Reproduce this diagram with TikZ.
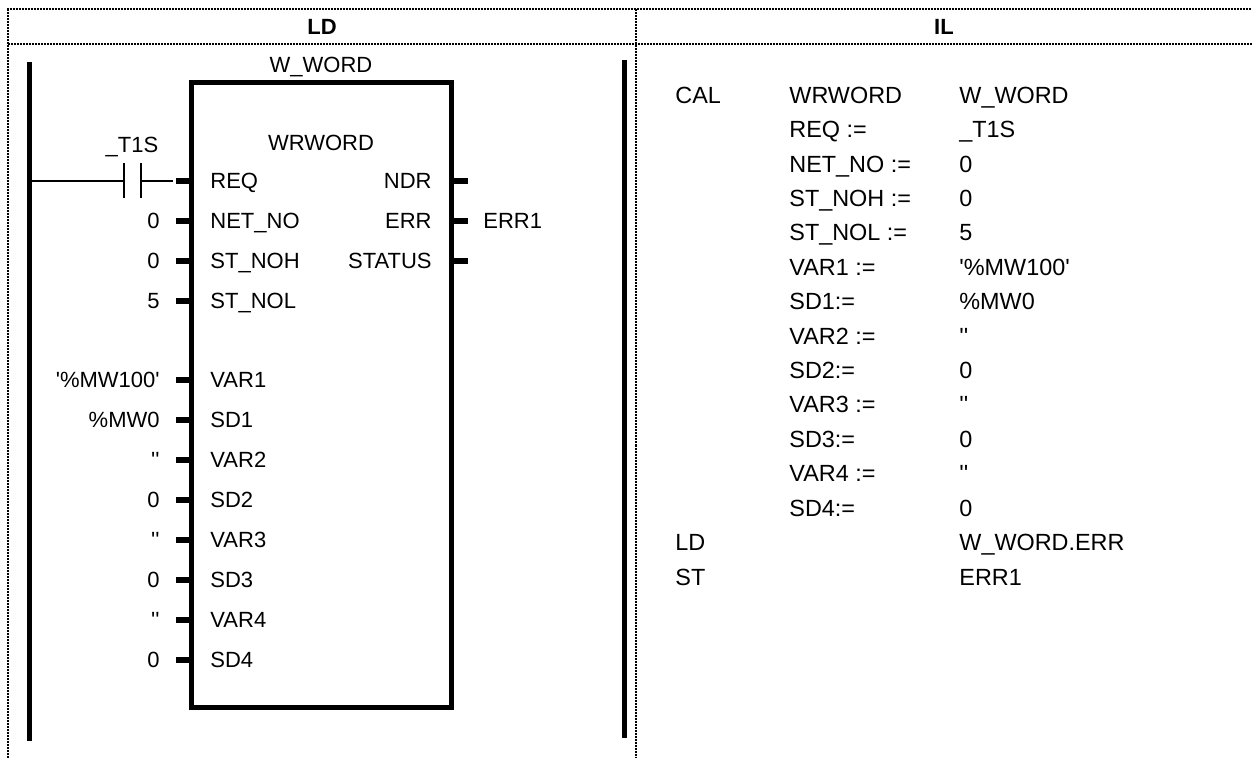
\documentclass[tikz,border=0pt]{standalone}
\usepackage{fontspec}
\setmainfont{Liberation Sans}[Ligatures=TeXOff]
\usetikzlibrary{positioning,calc}

\tikzset{
  frame/.style={line width=1pt, dash pattern=on 1pt off 0.5pt},
  rail/.style={line width=2.5pt},
  fblock/.style={draw, line width=2.5pt, minimum width=130pt, minimum height=312pt, inner sep=0pt},
  pinline/.style={line width=3pt},
  wire/.style={line width=1pt},
  plate/.style={line width=1.3pt},
  lbl/.style={font=\fontsize{11}{13}\selectfont, inner sep=0pt},
  il/.style={font=\fontsize{11.7}{14}\selectfont, inner sep=0pt, anchor=base west},
  head/.style={font=\bfseries\fontsize{11}{13}\selectfont, inner sep=0pt, anchor=base},
}

\begin{document}
\begin{tikzpicture}[x=0.5pt, y=-0.5pt]
  \useasboundingbox (0,0) rectangle (1252,758);

  % Draw the dotted table frame
  \draw[frame] (8,758) -- (8,9.5) -- (1252,9.5);
  \draw[frame] (8,44) -- (1252,44);
  \draw[frame] (636,9.5) -- (636,758);

  % Column headers
  \node[head] (hLD) at (322,35) {LD};
  \node[head] (hIL) at (944,35) {IL};

  % Draw the power rails
  \coordinate (railLtop) at (29.5,62);
  \coordinate (railLbot) at (29.5,741);
  \coordinate (railRtop) at (624,60);
  \coordinate (railRbot) at (624,738);
  \draw[rail] (railLtop) -- (railLbot);
  \draw[rail] (railRtop) -- (railRbot);

  % Function block
  \node[fblock] (fb) at (321,395) {};
  \node[lbl, anchor=base] (inst) at (321,72.5) {W\_WORD};
  \node[lbl, anchor=base] (ftype) at (321,150.5) {WRWORD};

  % REQ pin with the contact
  \coordinate (p0) at (176,181);
  \draw[pinline] (p0) -- (fb.west |- p0);
  \node[lbl, anchor=base west] (in0) at (210,188.5) {REQ};
  \coordinate (rung) at (railLtop |- p0);
  \coordinate (kL) at (124,181);
  \coordinate (kR) at (141,181);
  \draw[wire] (rung) -- (kL);
  \draw[plate] ($(kL)+(0,-17.5)$) -- ($(kL)+(0,17.5)$);
  \draw[plate] ($(kR)+(0,-17.5)$) -- ($(kR)+(0,17.5)$);
  \draw[wire, shorten >=1.5pt] (kR) -- (p0);
  \node[lbl, anchor=base] (t1s) at (132,152.5) {\_T1S};

  % Draw the input pins
  \foreach \k/\val/\pin in {1/0/NET\_NO, 2/0/ST\_NOH, 3/5/ST\_NOL, 5/'\%MW100'/VAR1, 6/\%MW0/SD1,
      7/''/VAR2, 8/0/SD2, 9/''/VAR3, 10/0/SD3, 11/''/VAR4, 12/0/SD4} {
    \coordinate (p\k) at (176,181+39.9*\k);
    \draw[pinline] (p\k) -- (fb.west |- p\k);
    \node[lbl, anchor=base east] (v\k) at (160,188.5+39.9*\k) {\val};
    \node[lbl, anchor=base west] (in\k) at (210,188.5+39.9*\k) {\pin};
  }

  % Draw the output pins
  \foreach \k/\pin in {0/NDR, 1/ERR, 2/STATUS} {
    \coordinate (q\k) at (468,181+39.9*\k);
    \draw[pinline] (fb.east |- q\k) -- (q\k);
    \node[lbl, anchor=base east] (out\k) at (432,188.5+39.9*\k) {\pin};
  }
  \node[lbl, anchor=base west] (err1) at (483,228.4) {ERR1};

  % IL listing
  \foreach \k/\op/\arg/\val in {0/CAL/WRWORD/W\_WORD, 1//REQ :=/\_T1S, 2//NET\_NO :=/0,
      3//ST\_NOH :=/0, 4//ST\_NOL :=/5, 5//VAR1 :=/'\%MW100', 6//SD1:=/\%MW0,
      7//VAR2 :=/'', 8//SD2:=/0, 9//VAR3 :=/'', 10//SD3:=/0, 11//VAR4 :=/'',
      12//SD4:=/0, 13/LD//W\_WORD.ERR, 14/ST//ERR1} {
    \node[il] (op\k) at (675,103.4+34.4*\k) {\op};
    \node[il] (arg\k) at (789,103.4+34.4*\k) {\arg};
    \node[il] (val\k) at (959,103.4+34.4*\k) {\val};
  }
\end{tikzpicture}
\end{document}
